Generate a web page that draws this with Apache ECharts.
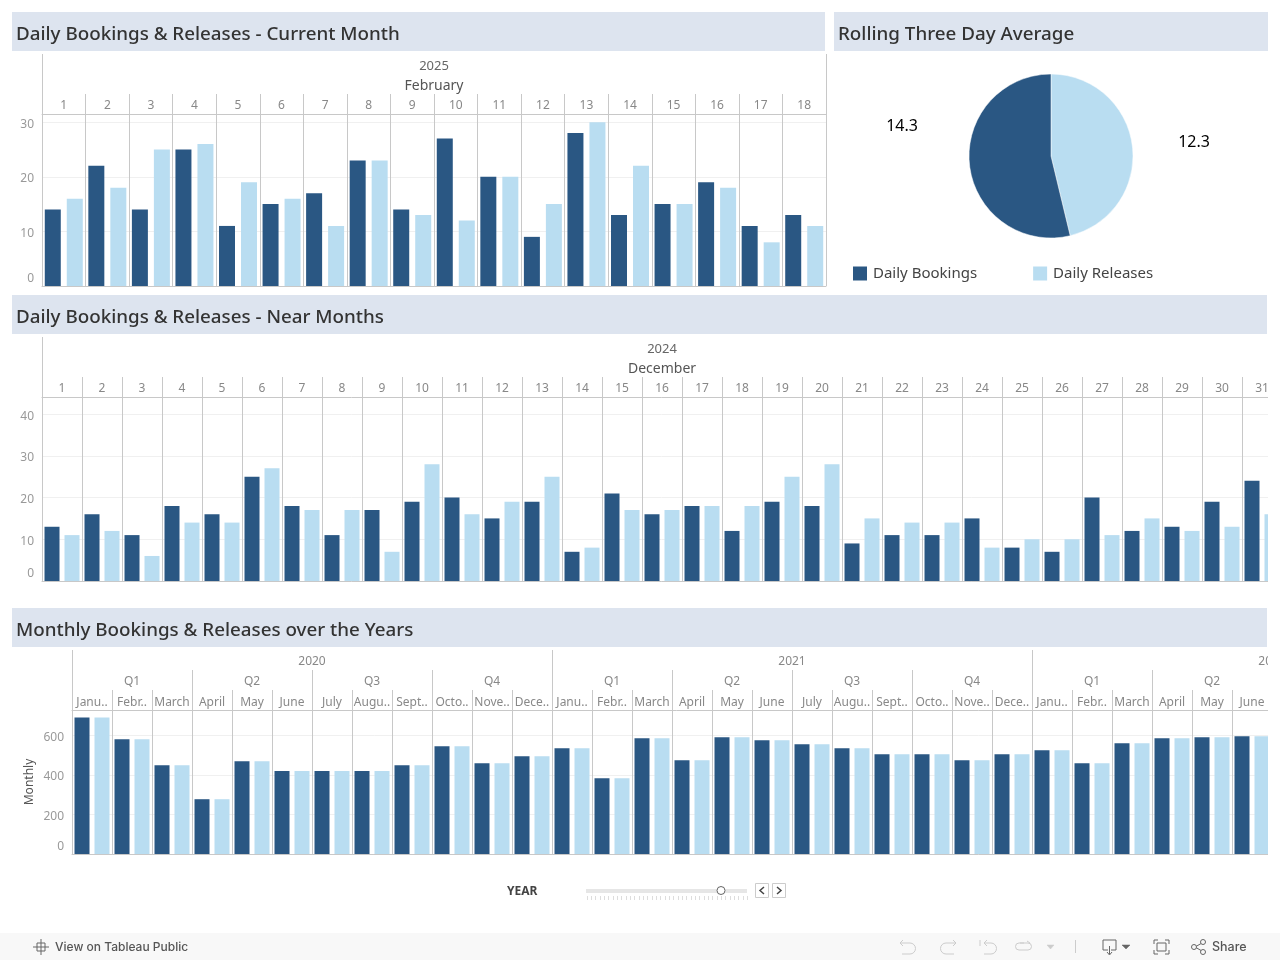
<!DOCTYPE html>
<html><head><meta charset="utf-8">
<style>html,body{margin:0;padding:0;background:#fff}#c{width:1280px;height:960px}</style>
<script src="https://cdn.jsdelivr.net/npm/echarts@6/dist/echarts.min.js"></script>
</head><body><div id="c"></div>
<script>
const DARK='#2a5783', LIGHT='#b9ddf1', BAND='#dde4ef', RULE='#c8c8c8', GRIDC='#f0f0f0';
const FONT='"Noto Sans", sans-serif';

const curDays=['1','2','3','4','5','6','7','8','9','10','11','12','13','14','15','16','17','18'];
const curBookings=[14,22,14,25,11,15,17,23,14,27,20,9,28,13,15,19,11,13];
const curReleases=[16,18,25,26,19,16,11,23,13,12,20,15,30,22,15,18,8,11];

const nearDays=['1','2','3','4','5','6','7','8','9','10','11','12','13','14','15','16','17','18','19','20','21','22','23','24','25','26','27','28','29','30','31'];
const nearBookings=[13,16,11,18,16,25,18,11,17,19,20,15,19,7,21,16,18,12,19,18,9,11,11,15,8,7,20,12,13,19,24];
const nearReleases=[11,12,6,14,14,27,17,17,7,28,16,19,25,8,17,17,18,18,25,28,15,14,14,8,10,10,11,15,12,13,16];

const monthNames=['Janu..','Febr..','March','April','May','June','July','Augu..','Sept..','Octo..','Nove..','Dece..'];
const quarterNames=['Q1','Q2','Q3','Q4'];
const yearNames=['2020','2021','2022'];
const monthlyBookings=[690,580,449,277,469,419,419,419,449,545,459,494,535,383,585,474,590,575,555,535,504,504,474,504,524,459,560,585,590,595];
const monthlyReleases=[690,580,449,277,469,419,419,419,449,545,459,494,535,383,585,474,590,575,555,535,504,504,474,504,524,459,560,585,590,595];

const pieBookings=14.3, pieReleases=12.3;

const months36=yearNames.flatMap(()=>monthNames);
const quarters12=yearNames.flatMap(()=>quarterNames);

const xAxes=[],yAxes=[],series=[],grids=[];
function panel(g){
  const i=grids.length;
  grids.push({left:g.left,top:g.top,width:g.width,height:g.height,containLabel:false,outerBoundsMode:'none'});
  const base=xAxes.length;
  xAxes.push({type:'category',gridIndex:i,position:'bottom',data:g.cats,
    axisLine:{show:true,onZero:false,lineStyle:{color:RULE}},axisTick:{show:false},axisLabel:{show:false},
    splitLine:{show:true,interval:0,lineStyle:{color:RULE,width:1}}});
  g.levels.forEach((lv,k)=>{
    xAxes.push({type:'category',gridIndex:i,position:'top',offset:k*20,data:lv.data,
      axisLine:{show:k===0,onZero:false,lineStyle:{color:RULE}},
      axisTick:{show:lv.tick!==false,length:20,interval:0,lineStyle:{color:RULE}},
      axisLabel:{show:true,interval:0,margin:lv.margin,color:lv.color,fontSize:lv.size,fontFamily:FONT,hideOverlap:false},
      splitLine:{show:false}});
  });
  yAxes.push({type:'value',gridIndex:i,min:0,max:g.max,interval:g.interval,
    name:g.yName||'',nameLocation:'middle',nameGap:g.nameGap||30,nameMoveOverlap:false,nameTextStyle:{color:'#555',fontSize:12,fontFamily:FONT},
    axisLine:{show:true,lineStyle:{color:RULE}},axisTick:{show:false},
    axisLabel:{color:'#999',fontSize:12,fontFamily:FONT,margin:8,showMaxLabel:false,verticalAlignMinLabel:'bottom',
      formatter:v=>'{n|'+v+'}',rich:{n:{color:'#999',fontSize:12,fontFamily:FONT,padding:[5,0,1,0]}}},
    splitLine:{show:true,showMaxLine:false,lineStyle:{color:GRIDC,width:1}}});
  const common={type:'bar',xAxisIndex:base,yAxisIndex:i,barWidth:g.barW,barGap:g.barGap,animation:false,silent:true};
  series.push({...common,name:'Daily Bookings',data:g.a,itemStyle:{color:DARK}});
  series.push({...common,name:'Daily Releases',data:g.b,itemStyle:{color:LIGHT}});
}
panel({left:42,top:114,width:784,height:172,max:31.5,interval:10,cats:curDays,a:curBookings,b:curReleases,barW:16,barGap:'37.5%',
  levels:[{data:curDays,margin:2,color:'#888',size:12},
          {data:['February'],margin:1,color:'#555',size:14},
          {data:['2025'],margin:1,color:'#666',size:13}]});
panel({left:42,top:397,width:1240,height:184,max:44.1,interval:10,cats:nearDays,a:nearBookings,b:nearReleases,barW:15,barGap:'33.3%',
  levels:[{data:nearDays,margin:2,color:'#888',size:12},
          {data:['December'],margin:1,color:'#555',size:14},
          {data:['2024'],margin:1,color:'#666',size:13}]});
panel({left:72,top:710,width:1440,height:144,max:728,interval:200,cats:months36,a:monthlyBookings,b:monthlyReleases,barW:15,barGap:'33.3%',yName:'Monthly',nameGap:36,
  levels:[{data:months36,margin:1,color:'#888',size:12},
          {data:quarters12,margin:2,color:'#888',size:12},
          {data:yearNames,margin:2,color:'#888',size:12}]});

const pieLabelSpots=[[1194,142],[902,126]];
series.push({type:'pie',name:'Rolling Three Day Average',center:[1051,156],radius:[0,82],startAngle:90,clockwise:true,animation:false,silent:true,
  itemStyle:{borderColor:'#fff',borderWidth:0.5},
  label:{show:true,position:'outside',color:'#000',fontSize:16,fontFamily:FONT,formatter:p=>p.value.toFixed(1)},
  labelLine:{show:false},
  labelLayout:p=>({x:pieLabelSpots[p.dataIndex][0],y:pieLabelSpots[p.dataIndex][1],align:'center',verticalAlign:'middle',hideOverlap:false}),
  data:[
    {name:'Daily Releases',value:pieReleases,itemStyle:{color:LIGHT}},
    {name:'Daily Bookings',value:pieBookings,itemStyle:{color:DARK}}
  ]});

const titles=[['Daily Bookings & Releases - Current Month',16,25],['Rolling Three Day Average',838,25],
  ['Daily Bookings & Releases - Near Months',16,308],['Monthly Bookings & Releases over the Years',16,621]]
 .map(t=>({text:t[0],left:t[1],top:t[2],padding:0,textStyle:{color:'#333',fontSize:18.8,fontWeight:500,fontFamily:FONT}}));

const band=(x,y,w,h,c)=>({type:'rect',z:-1,silent:true,shape:{x,y,width:w,height:h},style:{fill:c}});
const ln=(x1,y1,x2,y2,c,w)=>({type:'line',z:101,silent:true,shape:{x1,y1,x2,y2},style:{stroke:c,lineWidth:w||1}});
let iconId=0;
const path=(d,c,w,fill)=>{
  const name='icon'+(iconId++);
  echarts.graphic.registerShape(name,echarts.graphic.extendPath(d,{}));
  return {type:name,z:101,silent:true,style:{stroke:c,lineWidth:w||1,fill:fill||'none'}};
};
const txt=(t,x,y,o)=>({type:'text',z:101,silent:true,x,y,style:Object.assign({text:t,fontFamily:FONT,fontSize:12,fill:'#333',verticalAlign:'middle'},o||{})});

const sliderTicks=[];
for(let k=0;k<38;k++){const x=Math.round(586.5+k*4.34)+0.5;sliderTicks.push(ln(x,896,x,900,'#ddd'));}

const graphics=[
  band(12,12,813,39,BAND),band(834,12,434,39,BAND),band(12,295,1255,39,BAND),band(12,608,1255,39,BAND),
  {type:'rect',z:100,silent:true,shape:{x:1268,y:335,width:12,height:270},style:{fill:'#fff'}},
  {type:'rect',z:100,silent:true,shape:{x:1268,y:648,width:12,height:220},style:{fill:'#fff'}},
  txt('YEAR',507,892,{fontWeight:'bold',fontSize:12,fill:'#444'}),
  {type:'rect',z:101,silent:true,shape:{x:586,y:889,width:161,height:4},style:{fill:'#e6e6e6'}},
  {type:'circle',z:102,silent:true,shape:{cx:721,cy:890.5,r:4},style:{fill:'#fff',stroke:'#666',lineWidth:1}},
  ...sliderTicks,
  {type:'rect',z:101,silent:true,shape:{x:755.5,y:883.5,width:13,height:14},style:{fill:'#fff',stroke:'#ccc'}},
  {type:'rect',z:101,silent:true,shape:{x:772.5,y:883.5,width:13,height:14},style:{fill:'#fff',stroke:'#ccc'}},
  path('M764 887 L760 890.5 L764 894','#444',1.5),
  path('M777 887 L781 890.5 L777 894','#444',1.5),
  {type:'rect',z:100,silent:true,shape:{x:0,y:933,width:1280,height:27},style:{fill:'#f8f8f8'}},
  txt('View on Tableau Public',55,947,{fontSize:12,fill:'#555',fontFamily:'Inter, sans-serif',fontWeight:500}),
  path('M41 939 V955 M33 947 H49 M37 943 V951 M45 943 V951 M37 943 H45 M37 951 H45','#666',1),
  path('M900 943 H910 A5 5 0 0 1 910 954 H902 M900 943 L903 940 M900 943 L903 946','#ccc',1),
  path('M956 943 H946 A5 5 0 0 0 946 954 H954 M956 943 L953 940 M956 943 L953 946','#ccc',1),
  path('M984 943 H991 A5 5 0 0 1 991 954 H984 M980 940 V946 M984 943 L987 940 M984 943 L987 946','#ccc',1),
  path('M1020 943 H1028 A3 3 0 0 1 1028 950 H1019 A3 3 0 0 1 1019 943 H1024 M1030 943 L1027 941','#ccc',1),
  path('M1047 945 H1054 L1050.5 949 Z','#ccc',0.5,'#ccc'),
  ln(1075.5,940,1075.5,953,'#ccc'),
  path('M1108 950 H1103 V940 H1116 V950 H1111 M1109.5 946 V954 M1107 952 L1109.5 955 L1112 952','#666',1),
  path('M1122 945 H1130 L1126 949 Z','#666',0.5,'#666'),
  path('M1154 944 V940 H1158 M1165 940 H1169 V944 M1169 950 V954 H1165 M1158 954 H1154 V950 M1157 943 H1166 V951 H1157 Z','#666',1),
  path('M1195 947 L1202 943 M1195 947 L1202 951','#666',1),
  {type:'circle',z:101,silent:true,shape:{cx:1194,cy:947,r:2.5},style:{fill:'#f8f8f8',stroke:'#666'}},
  {type:'circle',z:101,silent:true,shape:{cx:1203,cy:942,r:2.5},style:{fill:'#f8f8f8',stroke:'#666'}},
  {type:'circle',z:101,silent:true,shape:{cx:1203,cy:952,r:2.5},style:{fill:'#f8f8f8',stroke:'#666'}},
  txt('Share',1212,947,{fontSize:12.5,fill:'#555',fontFamily:'Inter, sans-serif',fontWeight:500})
];

const chart=echarts.init(document.getElementById('c'),null,{renderer:'canvas'});
chart.setOption({
  backgroundColor:'#fff',animation:false,
  title:titles,grid:grids,xAxis:xAxes,yAxis:yAxes,series,graphic:graphics,tooltip:{show:false},
  legend:{left:853,top:266,padding:0,orient:'horizontal',itemWidth:14,itemHeight:14,itemGap:56,icon:'rect',selectedMode:false,
    data:['Daily Bookings','Daily Releases'],textStyle:{color:'#444',fontSize:15,fontFamily:FONT,padding:[3,0,0,1]}}
});
</script></body></html>
